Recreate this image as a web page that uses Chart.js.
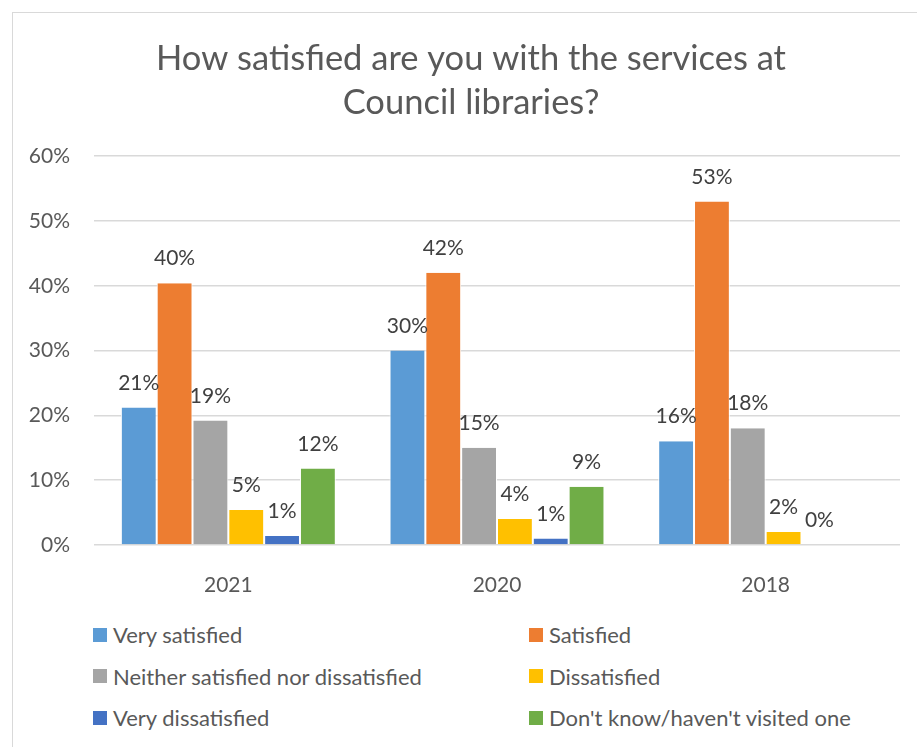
<!DOCTYPE html>
<html>
<head>
<meta charset="utf-8">
<script src="https://cdn.jsdelivr.net/npm/chart.js@4"></script>
<style>
  html, body { margin: 0; padding: 0; background: #fff; overflow: hidden; }
  #wrap { position: relative; width: 917px; height: 747px; overflow: hidden; }
  #frame { position: absolute; left: 12px; top: 12px; width: 940px; height: 780px; border: 1px solid #d9d9d9; }
  #chart { position: absolute; left: 0; top: 0; }
  #legend { position: absolute; left: 93px; top: 614px; display: grid;
    grid-template-columns: 436px auto; grid-auto-rows: 41.5px;
    font-family: Lato, sans-serif; font-size: 22px; color: #595959; }
  #legend div { display: flex; align-items: center; white-space: nowrap; }
  #legend span { display: inline-block; width: 14px; height: 14px; margin-right: 6px; }
</style>
</head>
<body>
<div id="wrap">
  <div id="frame"></div>
  <canvas id="chart" width="917" height="600"></canvas>
  <div id="legend"></div>
</div>
<script>
const years = ["2021", "2020", "2018"];
const seriesNames = ["Very satisfied", "Satisfied", "Neither satisfied nor dissatisfied",
  "Dissatisfied", "Very dissatisfied", "Don't know/haven't visited one"];
const seriesColors = ["#5b9bd5", "#ed7d31", "#a5a5a5", "#ffc000", "#4472c4", "#70ad47"];

// percent of respondents, per year in the order of `years`
const verySatisfied = [21.2, 30, 16];
const satisfied = [40.4, 42, 53];
const neither = [19.2, 15, 18];
const dissatisfied = [5.4, 4, 2];
const veryDissatisfied = [1.4, 1, 0];
const dontKnow = [11.8, 9, null];

const yTicks = [0, 10, 20, 30, 40, 50, 60];

const seriesValues = [verySatisfied, satisfied, neither, dissatisfied, veryDissatisfied, dontKnow];

// value labels above each bar
const barLabels = {
  id: "barLabels",
  afterDatasetsDraw(chart) {
    const ctx = chart.ctx;
    ctx.save();
    ctx.font = "21px Lato, sans-serif";
    ctx.fillStyle = "#404040";
    ctx.textAlign = "center";
    ctx.textBaseline = "alphabetic";
    chart.data.datasets.forEach((ds, i) => {
      chart.getDatasetMeta(i).data.forEach((bar, j) => {
        const v = ds.data[j];
        if (v === null) return;
        ctx.fillText(Math.round(v) + "%", bar.x, bar.y - 18);
      });
    });
    ctx.restore();
  }
};

// centre the title on the whole frame rather than the area after the y labels
const titleShift = {
  id: "titleShift",
  afterLayout(chart) {
    if (chart.titleBlock) chart.titleBlock.left += 42;
  }
};

new Chart(document.getElementById("chart"), {
  type: "bar",
  data: {
    labels: years,
    datasets: seriesNames.map((name, i) => ({
      label: name,
      data: seriesValues[i],
      backgroundColor: seriesColors[i],
      borderColor: "#ffffff",
      borderWidth: { left: 1, right: 1, top: 0, bottom: 0 },
      categoryPercentage: 0.8,
      barPercentage: 1
    }))
  },
  options: {
    responsive: false,
    animation: false,
    devicePixelRatio: 1,
    layout: { padding: { left: 0, right: 17, top: 0, bottom: 5 } },
    plugins: {
      legend: { display: false },
      tooltip: { enabled: false },
      title: {
        display: true,
        text: ["How satisfied are you with the services at", "Council libraries?"],
        color: "#595959",
        font: { family: "Lato, sans-serif", size: 34.5, weight: "normal", lineHeight: 1.3 },
        padding: { top: 36, bottom: 30.5 }
      }
    },
    scales: {
      x: {
        grid: { display: false },
        border: { display: false },
        ticks: { color: "#595959", font: { family: "Lato, sans-serif", size: 21 }, padding: 20 },
        afterFit(scale) { scale.height = 50; }
      },
      y: {
        min: 0,
        max: 60,
        afterBuildTicks(scale) { scale.ticks = yTicks.map(v => ({ value: v })); },
        grid: { color: "#d9d9d9", lineWidth: 1.5, drawTicks: false },
        border: { display: false },
        ticks: {
          color: "#595959",
          font: { family: "Lato, sans-serif", size: 21 },
          padding: 24,
          callback: v => v + "%"
        },
        afterFit(scale) { scale.width = 94; }
      }
    }
  },
  plugins: [barLabels, titleShift]
});

// two-column legend under the chart
const legend = document.getElementById("legend");
seriesNames.forEach((name, i) => {
  const item = document.createElement("div");
  item.innerHTML = `<span style="background:${seriesColors[i]}"></span>${name}`;
  legend.appendChild(item);
});
</script>
</body>
</html>
